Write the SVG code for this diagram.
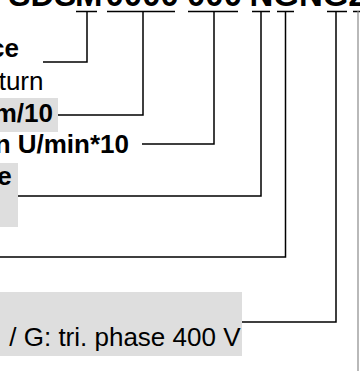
<svg xmlns="http://www.w3.org/2000/svg" width="360" height="371" viewBox="0 0 360 371">
<style>
.t{font-family:"Liberation Sans",Arial,sans-serif;fill:#000}
.b{font-weight:bold;font-size:26px}
.r{font-weight:normal;font-size:26px}
.hd{font-weight:bold;font-size:33px}
.c{fill:none;stroke:#000;stroke-width:1.5}
.g{fill:none;stroke:#8a8a8a;stroke-width:1.2}
.bx{fill:#dedede}
</style>
<rect width="360" height="371" fill="#fff"/>
<g id="code">
<text class="t hd" y="6"><tspan x="8.5">SDS</tspan><tspan x="75">M</tspan><tspan x="105.5">0000-</tspan><tspan x="187">000 </tspan><tspan x="249.5">NGNGZ</tspan></text>
<path class="c" d="M76 11.5H97M107 11.5H175M188 11.5H238M252 11.5H270M277 11.5H294M327 11.5H347M353 11.5H360"/>
</g>
<g id="connectors">
<path class="c" d="M87 11V62H43"/>
<path class="c" d="M143 11V115H58"/>
<path class="c" d="M214 11V144H142"/>
<path class="c" d="M261 11V196H18"/>
<path class="c" d="M285.5 11V257H0"/>
<path class="c" d="M336 11V322H242"/>
<path class="g" d="M358 11V371"/>
</g>
<g id="label-ce"><text class="t b" x="19" y="57" text-anchor="end">ce</text></g>
<g id="label-turn"><text class="t r" x="43.5" y="90" text-anchor="end">turn</text></g>
<g id="label-m10"><rect class="bx" x="0" y="98" width="58" height="34"/><text class="t b" x="53" y="121.5" text-anchor="end">m/10</text></g>
<g id="label-umin"><text class="t b" x="129" y="153" text-anchor="end">n U/min*10</text></g>
<g id="label-e"><rect class="bx" x="0" y="163" width="18" height="64"/><text class="t b" x="11.7" y="185" text-anchor="end">e</text></g>
<g id="label-phase"><rect class="bx" x="0" y="292" width="242" height="64"/><text class="t r" x="240.5" y="346" text-anchor="end">/ G: tri. phase 400 V</text></g>
</svg>
